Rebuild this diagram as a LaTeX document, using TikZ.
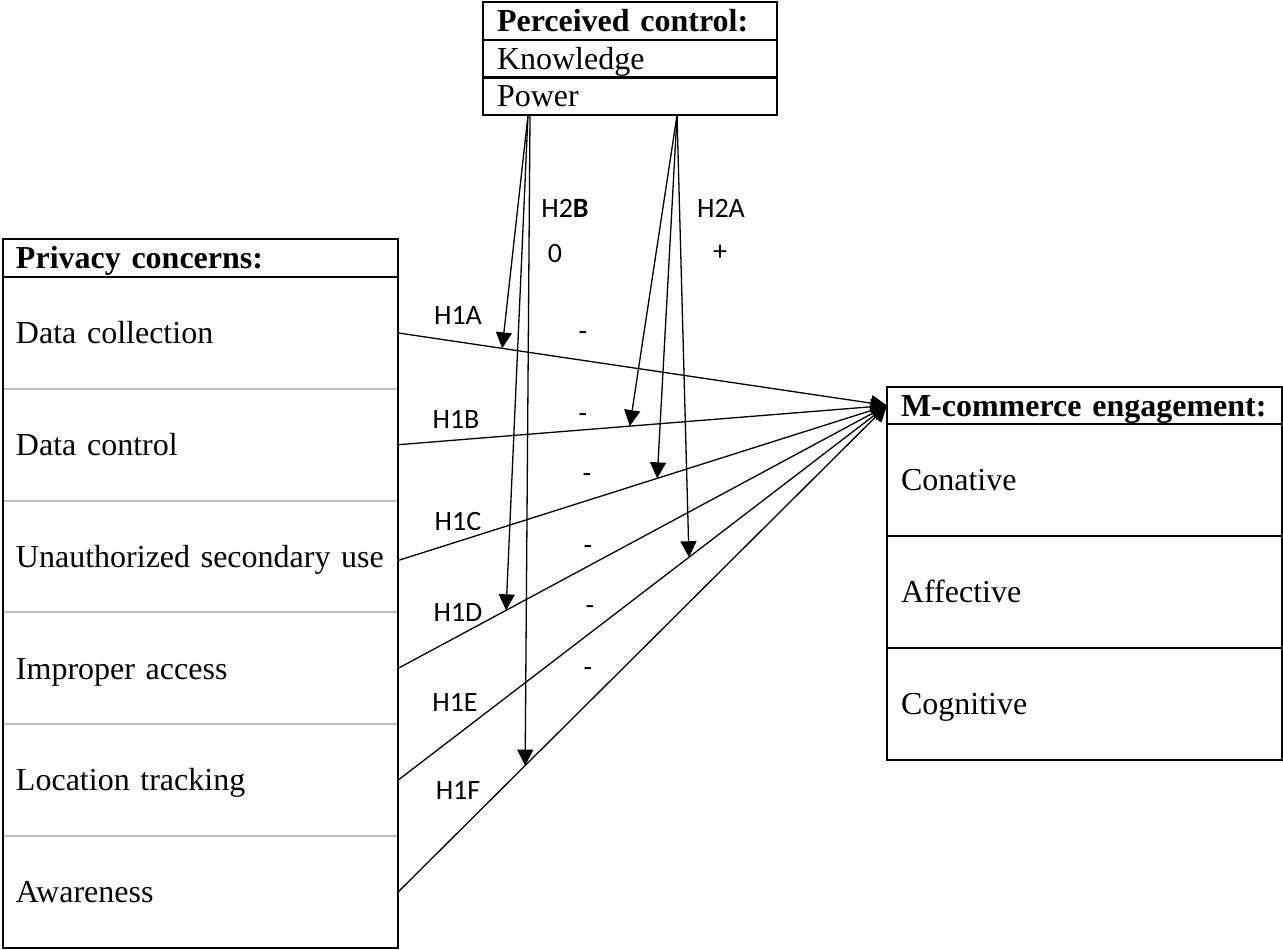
\documentclass[tikz,border=0pt]{standalone}
\usepackage{fontspec}
\setmainfont{Liberation Serif}
\newfontfamily\labfont{Carlito}
\usetikzlibrary{arrows.meta,calc}
\begin{document}
\begin{tikzpicture}[x=0.5pt,y=-0.5pt,
  every node/.style={inner sep=0pt, outer sep=0pt},
  txt/.style={font=\fontsize{16}{19}\selectfont, text height=10.6pt, text depth=0pt},
  ttl/.style={font=\fontsize{16}{19}\selectfont\bfseries, text height=10.6pt, text depth=0pt},
  lab/.style={font=\labfont\fontsize{14}{17}\selectfont},
  frame/.style={line width=1.1pt},
  sepg/.style={line width=1pt, draw=black!25},
  arr/.style={line width=0.65pt, -{Triangle[length=8pt,width=8pt]}},
  trow/.style={minimum height=18.85pt, text width=133pt, inner xsep=7pt, align=left},
  lrow/.style={minimum height=55.92pt, text width=184.5pt, inner xsep=6.5pt, align=left},
  lhead/.style={minimum height=19pt, text width=184.5pt, inner xsep=6.5pt, align=left},
  rrow/.style={minimum height=56pt, text width=183.5pt, inner xsep=7pt, align=left},
  rhead/.style={minimum height=18.5pt, text width=183.5pt, inner xsep=7pt, align=left},
]
\useasboundingbox (0,0) rectangle (1283,949);

% Perceived control box
\node[trow, ttl] (pc) at (630, 20.85) {Perceived control:};
\node[trow, txt] (kn) at (630, 58.55) {Knowledge};
\node[trow, txt] (pw) at (630, 96.25) {Power};
\draw[frame] (pc.north west) rectangle (pw.south east);
\draw[frame] (pc.south west) -- (pc.south east);
\draw[frame] (kn.south west) -- (kn.south east);

% Privacy concerns box
\node[lhead, ttl] (pcn) at (200.5, 258) {Privacy concerns:};
\node[lrow, txt] (dcol) at (200.5, 332.9) {Data collection};
\node[lrow, txt] (dcon) at (200.5, 444.7) {Data control};
\node[lrow, txt] (unau) at (200.5, 556.5) {Unauthorized secondary use};
\node[lrow, txt] (impr) at (200.5, 668.4) {Improper access};
\node[lrow, txt] (loct) at (200.5, 780.2) {Location tracking};
\node[lrow, txt] (awar) at (200.5, 892.1) {Awareness};
\draw[sepg] (dcol.south west) -- (dcol.south east);
\draw[sepg] (dcon.south west) -- (dcon.south east);
\draw[sepg] (unau.south west) -- (unau.south east);
\draw[sepg] (impr.south west) -- (impr.south east);
\draw[sepg] (loct.south west) -- (loct.south east);
\draw[frame] (pcn.south west) -- (pcn.south east);
\draw[frame] (pcn.north west) rectangle (awar.south east);

% M-commerce engagement box
\node[rhead, ttl] (me) at (1084.5, 405.5) {M-commerce engagement:};
\node[rrow, txt] (cona) at (1084.5, 480) {Conative};
\node[rrow, txt] (affe) at (1084.5, 592) {Affective};
\node[rrow, txt] (cogn) at (1084.5, 704) {Cognitive};
\draw[frame] (me.north west) rectangle (cogn.south east);
\draw[frame] (me.south west) -- (me.south east);
\draw[frame] (cona.south west) -- (cona.south east);
\draw[frame] (affe.south west) -- (affe.south east);

% main arrows
\draw[arr] (dcol.east) -- (me.west);
\draw[arr] (dcon.east) -- (me.west);
\draw[arr] ([yshift=-2pt]unau.east) -- (me.west);
\draw[arr] (impr.east) -- (me.west);
\draw[arr] (loct.east) -- (me.west);
\draw[arr] (awar.east) -- (me.west);

% moderator arrows
\coordinate (oB1) at ([xshift=-51pt]pw.south);
\coordinate (oB2) at ([xshift=-50pt]pw.south);
\coordinate (oA) at ([xshift=23.5pt]pw.south);
\coordinate (tA) at ($(dcol.east)!0.213!(me.west)$);
\coordinate (tB) at ($(dcon.east)!0.474!(me.west)$);
\coordinate (tC) at ($([yshift=-2pt]unau.east)!0.530!(me.west)$);
\coordinate (tD) at ($(impr.east)!0.221!(me.west)$);
\coordinate (tE) at ($(loct.east)!0.595!(me.west)$);
\coordinate (tF) at ($(awar.east)!0.260!(me.west)$);
\draw[arr] (oB1) -- (tA);
\draw[arr] (oB1) -- (tD);
\draw[arr] (oB2) -- (tF);
\draw[arr] (oA) -- (tB);
\draw[arr] (oA) -- (tC);
\draw[arr] (oA) -- (tE);

% labels
\node[lab] (h2b) at (565, 208) {H2\textbf{B}};
\node[lab] (zero) at (555, 253) {0};
\node[lab] (h2a) at (721, 208) {H2A};
\node[lab] (plus) at (720, 253) {+};
\node[lab] (h1a) at (458, 315) {H1A};
\node[lab] (h1b) at (456, 419) {H1B};
\node[lab] (h1c) at (458, 521) {H1C};
\node[lab] (h1d) at (458, 612) {H1D};
\node[lab] (h1e) at (455, 702) {H1E};
\node[lab] (h1f) at (458, 790) {H1F};
\node[lab] (m1) at (583, 336) {-};
\node[lab] (m2) at (583, 418) {-};
\node[lab] (m3) at (587, 478) {-};
\node[lab] (m4) at (588, 550) {-};
\node[lab] (m5) at (590, 610) {-};
\node[lab] (m6) at (588, 672) {-};
\end{tikzpicture}
\end{document}
